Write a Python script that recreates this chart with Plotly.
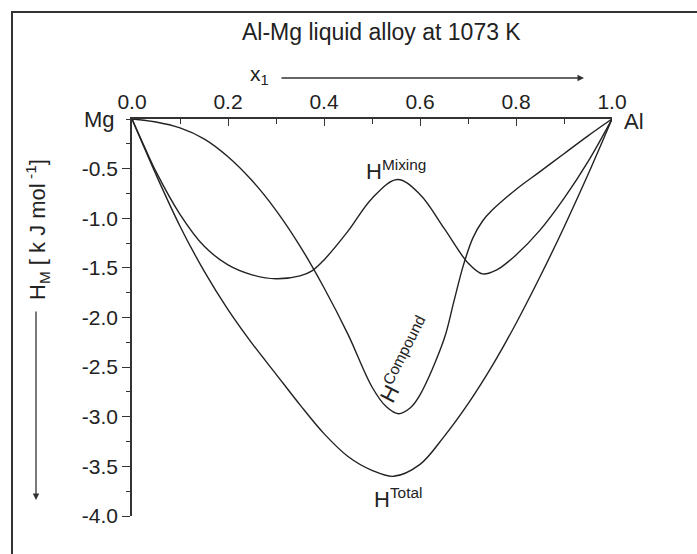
import plotly.graph_objects as go

# ---- data ----
x_mix = [0.0, 0.025, 0.05, 0.1, 0.15, 0.2, 0.25, 0.3, 0.35, 0.375, 0.4, 0.45, 0.5, 0.553, 0.6, 0.65, 0.7, 0.73, 0.76, 0.8, 0.85, 0.9, 0.95, 1.0]
h_mix = [0.0, -0.27, -0.53, -0.96, -1.28, -1.47, -1.57, -1.61, -1.58, -1.53, -1.42, -1.13, -0.80, -0.61, -0.76, -1.10, -1.45, -1.56, -1.52, -1.37, -1.12, -0.80, -0.43, 0.0]

x_comp = [0.0, 0.05, 0.1, 0.15, 0.2, 0.25, 0.3, 0.35, 0.4, 0.45, 0.5, 0.53, 0.555, 0.58, 0.6, 0.65, 0.67, 0.69, 0.71, 0.73, 0.75, 0.8, 0.85, 0.9, 0.95, 1.0]
h_comp = [0.0, -0.03, -0.09, -0.20, -0.38, -0.62, -0.92, -1.28, -1.70, -2.17, -2.70, -2.90, -2.97, -2.91, -2.78, -2.22, -1.85, -1.48, -1.20, -1.03, -0.92, -0.71, -0.53, -0.35, -0.17, 0.0]

x_tot = [0.0, 0.05, 0.1, 0.15, 0.2, 0.25, 0.3, 0.35, 0.4, 0.45, 0.5, 0.545, 0.6, 0.65, 0.7, 0.75, 0.8, 0.85, 0.9, 0.95, 1.0]
h_tot = [0.0, -0.56, -1.08, -1.53, -1.92, -2.26, -2.57, -2.88, -3.17, -3.40, -3.54, -3.60, -3.48, -3.20, -2.87, -2.49, -2.06, -1.59, -1.09, -0.56, 0.0]

x_ticks = [0.0, 0.2, 0.4, 0.6, 0.8, 1.0]
y_ticks = [-4.0, -3.5, -3.0, -2.5, -2.0, -1.5, -1.0, -0.5]

FONT = "Liberation Sans, Arial, sans-serif"
LC = "#222222"

fig = go.Figure()
for xs, ys in [(x_mix, h_mix), (x_comp, h_comp), (x_tot, h_tot)]:
    fig.add_trace(go.Scatter(x=xs, y=ys, mode="lines",
                             line=dict(color=LC, width=1.4, shape="spline", smoothing=1.0),
                             showlegend=False, hoverinfo="skip"))

fig.update_layout(
    width=697, height=554,
    margin=dict(l=132, r=85, t=119, b=38),
    paper_bgcolor="white", plot_bgcolor="white",
    font=dict(family=FONT, size=21, color="#222"),
    xaxis=dict(range=[0, 1], side="top", showgrid=False, zeroline=False,
               showline=True, linecolor="#333", linewidth=1.5, mirror=False,
               tickvals=x_ticks, ticktext=[f"{v:.1f}" for v in x_ticks],
               ticks="inside", ticklen=7, tickwidth=1.3, tickcolor="#333",
               minor=dict(dtick=0.1, tick0=0, ticks="inside", ticklen=5, tickwidth=1.3, tickcolor="#333"),
               tickfont=dict(size=21, family=FONT), fixedrange=True),
    yaxis=dict(range=[-4, 0], showgrid=False, zeroline=False,
               showline=True, linecolor="#333", linewidth=1.5, mirror=False,
               tickvals=y_ticks, ticktext=[f"{v:.1f}" for v in y_ticks],
               ticks="outside", ticklen=8, tickwidth=1.3, tickcolor="#333",
               minor=dict(dtick=0.25, tick0=0, ticks="outside", ticklen=4, tickwidth=1.3, tickcolor="#333"),
               tickfont=dict(size=21, family=FONT), fixedrange=True),
)

# frame (left and top edges)
fig.add_shape(type="path", xref="paper", yref="paper",
              path="M -0.25,-0.12 L -0.25,1.2695 L 1.2,1.2695",
              line=dict(color="#333", width=2))

ann = []
ann.append(dict(text="Al-Mg liquid alloy at 1073 K", x=0.519, y=1.219, font=dict(size=23)))
ann.append(dict(text="x<sub>1</sub>", x=0.265, y=1.11, font=dict(size=21)))
ann.append(dict(text="Mg", x=-0.068, y=0.998, font=dict(size=22)))
ann.append(dict(text="Al", x=1.046, y=0.993, font=dict(size=22)))
ann.append(dict(text="H<sup>Mixing</sup>", x=(396-132)/480, y=(516-170)/397, font=dict(size=22)))
ann.append(dict(text="H<sup>Total</sup>", x=(398-132)/480, y=(516-498)/397, font=dict(size=22)))
ann.append(dict(text="H<sup>Compound</sup>", x=(405-132)/480, y=(516-360)/397, textangle=-63, font=dict(size=22)))
ann.append(dict(text="H<sub>M</sub> [ k J mol<sup> -1</sup>]", x=(37-132)/480, y=(516-230)/397, textangle=-90, font=dict(size=22)))
for a in ann:
    a.update(xref="paper", yref="paper", showarrow=False, xanchor="center", yanchor="middle")
    fig.add_annotation(**a)

# arrows
fig.add_annotation(xref="paper", yref="paper", x=(584-132)/480, y=(516-78)/397,
                   ax=-304, ay=0, text="", showarrow=True, arrowhead=2, arrowsize=1,
                   arrowwidth=1.3, arrowcolor="#333")
fig.add_annotation(xref="paper", yref="paper", x=(36-132)/480, y=(516-500)/397,
                   ax=0, ay=-190, text="", showarrow=True, arrowhead=2, arrowsize=1,
                   arrowwidth=1.3, arrowcolor="#333")

fig.write_html("out.html")
